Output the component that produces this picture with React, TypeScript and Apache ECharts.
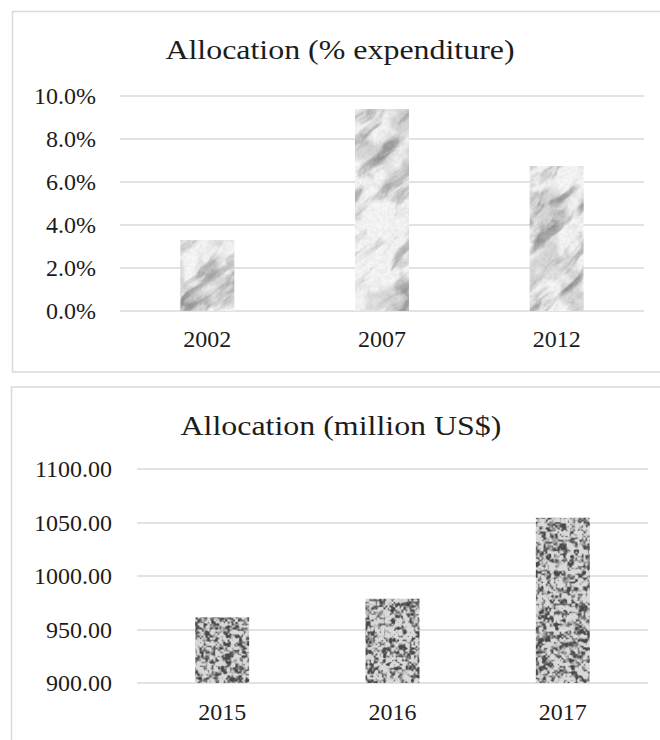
import React, { useEffect, useRef } from "react";
import * as echarts from "echarts";

// Allocation as a share of expenditure (%)
const shareYears = ["2002", "2007", "2012"];
const shareValues = [3.3, 9.4, 6.75];
const shareAxis = { min: 0, max: 10, interval: 2 };

// Allocation in million US$
const amountYears = ["2015", "2016", "2017"];
const amountValues = [961.5, 978.7, 1054.5];
const amountAxis = { min: 900, max: 1100, interval: 50 };

const SERIF = "'Liberation Serif', 'Times New Roman', serif";
const INK = "#1c1c1c";
const RULE = "#d9d9d9";
const W = 660;
const H = 740;

// Deterministic lattice hash for the texture noise
function hash2(x: number, y: number, seed: number): number {
  let h =
    Math.imul(x, 374761393) ^ Math.imul(y, 668265263) ^ Math.imul(seed, 1442695041);
  h = Math.imul(h ^ (h >>> 13), 1274126177);
  h ^= h >>> 16;
  return (h >>> 0) / 4294967296;
}

function valueNoise(x: number, y: number, seed: number): number {
  const xi = Math.floor(x);
  const yi = Math.floor(y);
  const xf = x - xi;
  const yf = y - yi;
  const u = xf * xf * (3 - 2 * xf);
  const v = yf * yf * (3 - 2 * yf);
  const a = hash2(xi, yi, seed);
  const b = hash2(xi + 1, yi, seed);
  const c = hash2(xi, yi + 1, seed);
  const d = hash2(xi + 1, yi + 1, seed);
  return a + (b - a) * u + (c - a) * v + (a - b - c + d) * u * v;
}

function fbm(x: number, y: number, seed: number, octaves: number): number {
  let sum = 0;
  let amp = 0.5;
  let freq = 1;
  let norm = 0;
  for (let i = 0; i < octaves; i++) {
    sum += amp * valueNoise(x * freq, y * freq, seed + i * 17);
    norm += amp;
    amp *= 0.5;
    freq *= 2;
  }
  return sum / norm;
}

function smoothstep(e0: number, e1: number, x: number): number {
  const t = Math.min(1, Math.max(0, (x - e0) / (e1 - e0)));
  return t * t * (3 - 2 * t);
}

function paint(shade: (x: number, y: number) => number): HTMLCanvasElement {
  const canvas = document.createElement("canvas");
  canvas.width = W;
  canvas.height = H;
  const ctx = canvas.getContext("2d")!;
  const img = ctx.createImageData(W, H);
  for (let y = 0; y < H; y++) {
    for (let x = 0; x < W; x++) {
      const g = Math.max(0, Math.min(255, Math.round(shade(x, y))));
      const k = (y * W + x) * 4;
      img.data[k] = g;
      img.data[k + 1] = g;
      img.data[k + 2] = g;
      img.data[k + 3] = 255;
    }
  }
  ctx.putImageData(img, 0, 0);
  return canvas;
}

// Light marble with soft veins rising to the right
function marbleTexture(): HTMLCanvasElement {
  return paint((x, y) => {
    const p = (x + y) * 0.075;
    const q = (x - y) * 0.022;
    const warp = fbm(x * 0.03, y * 0.03, 7, 3);
    const m = fbm(p + 1.4 * warp, q + 1.0 * warp, 3, 4);
    const vein = smoothstep(0.42, 0.78, m);
    const cloud = fbm(x * 0.04, y * 0.04, 41, 3);
    const grain = valueNoise(x * 0.5, y * 0.5, 11);
    return 248 - 62 * vein - 30 * smoothstep(0.45, 0.75, cloud) - 14 * grain;
  });
}

// Speckled granite
function graniteTexture(): HTMLCanvasElement {
  return paint((x, y) => {
    const fine = valueNoise(x / 2.0, y / 2.0, 21);
    const mid = valueNoise(x / 4.0, y / 4.0, 29);
    const v = 0.5 * fine + 0.5 * mid;
    return 72 + 145 * smoothstep(0.2, 0.68, v);
  });
}

export default function App() {
  const ref = useRef<HTMLDivElement>(null);

  useEffect(() => {
    if (!ref.current) return;
    const chart = echarts.init(ref.current, null, {
      renderer: "svg",
      width: W,
      height: H,
    });
    const marble = marbleTexture();
    const granite = graniteTexture();

    const axisLabel = { fontSize: 24, fontFamily: SERIF, color: INK };

    chart.setOption({
      animation: false,
      backgroundColor: "#ffffff",
      textStyle: { fontFamily: SERIF },
      graphic: [
        {
          type: "rect",
          shape: { x: 12.5, y: 11.5, width: 700, height: 360.5 },
          style: { fill: "none", stroke: RULE, lineWidth: 1.5 },
          silent: true,
        },
        {
          type: "rect",
          shape: { x: 11.5, y: 387, width: 700, height: 400 },
          style: { fill: "none", stroke: RULE, lineWidth: 1.5 },
          silent: true,
        },
        {
          type: "text",
          x: 340,
          y: 49,
          scaleX: 1.14,
          style: {
            text: "Allocation (% expenditure)",
            fontSize: 28,
            fontFamily: SERIF,
            fill: INK,
            align: "center",
            verticalAlign: "middle",
          },
        },
        {
          type: "text",
          x: 341,
          y: 425,
          scaleX: 1.14,
          style: {
            text: "Allocation (million US$)",
            fontSize: 28,
            fontFamily: SERIF,
            fill: INK,
            align: "center",
            verticalAlign: "middle",
          },
        },
      ],
      grid: [
        { left: 120, top: 96, width: 524, height: 215 },
        { left: 137, top: 469, width: 511, height: 214 },
      ],
      xAxis: [
        {
          type: "category",
          gridIndex: 0,
          data: shareYears,
          axisLine: { show: false },
          axisTick: { show: false },
          axisLabel: { ...axisLabel, margin: 16 },
        },
        {
          type: "category",
          gridIndex: 1,
          data: amountYears,
          axisLine: { show: false },
          axisTick: { show: false },
          axisLabel: { ...axisLabel, margin: 17 },
        },
      ],
      yAxis: [
        {
          type: "value",
          gridIndex: 0,
          ...shareAxis,
          axisLine: { show: false },
          axisTick: { show: false },
          splitLine: { lineStyle: { color: RULE, width: 1.5 } },
          axisLabel: {
            ...axisLabel,
            margin: 24,
            formatter: (v: number) => v.toFixed(1) + "%",
          },
        },
        {
          type: "value",
          gridIndex: 1,
          ...amountAxis,
          axisLine: { show: false },
          axisTick: { show: false },
          splitLine: { lineStyle: { color: RULE, width: 1.5 } },
          axisLabel: {
            ...axisLabel,
            margin: 25,
            formatter: (v: number) => v.toFixed(2),
          },
        },
      ],
      series: [
        {
          type: "bar",
          xAxisIndex: 0,
          yAxisIndex: 0,
          data: shareValues,
          barWidth: 54,
          itemStyle: { color: { image: marble, repeat: "repeat" } },
        },
        {
          type: "bar",
          xAxisIndex: 1,
          yAxisIndex: 1,
          data: amountValues,
          barWidth: 54,
          itemStyle: { color: { image: granite, repeat: "repeat" } },
        },
      ],
    });

    return () => chart.dispose();
  }, []);

  return (
    <div
      ref={ref}
      style={{
        position: "fixed",
        left: 0,
        top: 0,
        width: W,
        height: H,
        background: "#ffffff",
      }}
    />
  );
}
